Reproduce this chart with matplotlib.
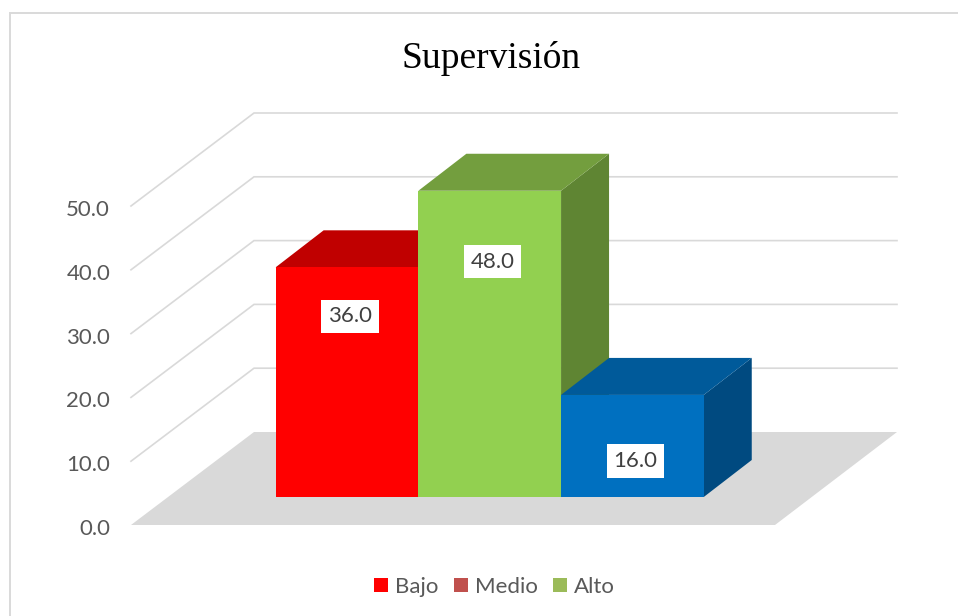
import matplotlib
matplotlib.use("Agg")
import matplotlib.pyplot as plt
from matplotlib.patches import Patch, Polygon
from matplotlib.lines import Line2D
from matplotlib.transforms import ScaledTranslation

W, H, DPI = 958, 616, 100

title = "Supervisión"
bar_values = [36.0, 48.0, 16.0]
bar_front = ["#FF0000", "#92D050", "#0070C0"]
bar_top = ["#C00000", "#739E3E", "#005A9A"]
bar_side = ["#A00000", "#5F8533", "#004A80"]
legend_labels = ["Bajo", "Medio", "Alto"]
legend_colors = ["#FF0000", "#C0504D", "#9BBB59"]
y_ticks = [0, 10, 20, 30, 40, 50]
label_drop_px = [49, 71, 66]

# pixel geometry of the pseudo-3D frame
L, R, B, T = 131, 897, 525, 114
PX_PER_UNIT = 6.38
BAR_W = 142.7
ZERO_X = 347.0
FRONT_BASE = 497
DX, DY = 48 / BAR_W, 37 / PX_PER_UNIT
WALL_DX = (254 - L) / BAR_W
WALL_DY = (B - 432) / PX_PER_UNIT
FLOOR_FRONT_R = 775

plt.rcParams["font.family"] = ["Lato", "DejaVu Sans"]
fig = plt.figure(figsize=(W / DPI, H / DPI), dpi=DPI, facecolor="white")
ax = fig.add_axes([L / W, 1 - B / H, (R - L) / W, (B - T) / H])
x0 = -(ZERO_X - L) / BAR_W
x1 = (R - ZERO_X) / BAR_W
ax.set_xlim(x0, x1)
ax.set_ylim(0, (B - T) / PX_PER_UNIT)
ax.patch.set_alpha(0)
for s in ax.spines.values():
    s.set_visible(False)
ax.set_xticks([])
ax.set_yticks(y_ticks)
ax.set_yticklabels([f"{v:.1f}" for v in y_ticks], fontsize=16, color="#595959")
ax.tick_params(axis="y", length=0, pad=15)
shift = ScaledTranslation(0, -2 / DPI, fig.dpi_scale_trans)
for lab in ax.get_yticklabels():
    lab.set_transform(lab.get_transform() + shift)

# floor
ax.add_patch(Polygon([(x0, 0), (x0 + WALL_DX, WALL_DY), (x1, WALL_DY),
                      ((FLOOR_FRONT_R - ZERO_X) / BAR_W, 0)],
                     closed=True, fc="#D9D9D9", ec="none", zorder=1))
# walls
for v in y_ticks[1:]:
    ax.plot([x0, x0 + WALL_DX, x1], [v, v + WALL_DY, v + WALL_DY],
            color="#D9D9D9", lw=1.2, zorder=1, solid_joinstyle="miter", clip_on=False)

# bars
base = (B - FRONT_BASE) / PX_PER_UNIT
for i, v in enumerate(bar_values):
    l, r = i - 0.5, i + 0.5
    top = base + v
    ax.add_patch(Polygon([(r, base), (r + DX, base + DY), (r + DX, top + DY), (r, top)],
                         closed=True, fc=bar_side[i], ec="none", zorder=2 + i))
    ax.add_patch(Polygon([(l, top), (l + DX, top + DY), (r + DX, top + DY), (r, top)],
                         closed=True, fc=bar_top[i], ec="none", zorder=2 + i))
    ax.bar(i, v, width=1.0, bottom=base, color=bar_front[i], linewidth=0, zorder=2 + i)
    ax.annotate(f"{v:.1f}", xy=(i, top), xytext=(3 * 0.72, -label_drop_px[i] * 0.72),
                textcoords="offset points", ha="center", va="center",
                fontsize=16, color="#404040", zorder=10,
                bbox=dict(boxstyle="square,pad=0.3", fc="white", ec="none"))

# title and outer frame
fig.text(491.5 / W, 1 - 58 / H, title, ha="center", va="center", fontsize=27,
         family="Liberation Serif", color="black")
fig.add_artist(Line2D([9.5 / W, 9.5 / W, 1], [0, 1 - 12.5 / H, 1 - 12.5 / H],
                      color="#D9D9D9", lw=1.4, solid_joinstyle="miter"))

handles = [Patch(fc=c, ec="none") for c in legend_colors]
fig.legend(handles, legend_labels, loc="center", bbox_to_anchor=(494.5 / W, 1 - 587 / H),
           ncol=3, frameon=False, fontsize=16, labelcolor="#595959",
           handlelength=0.63, handleheight=0.63, handletextpad=0.3, columnspacing=0.7)

fig.savefig("out.png", dpi=DPI)
